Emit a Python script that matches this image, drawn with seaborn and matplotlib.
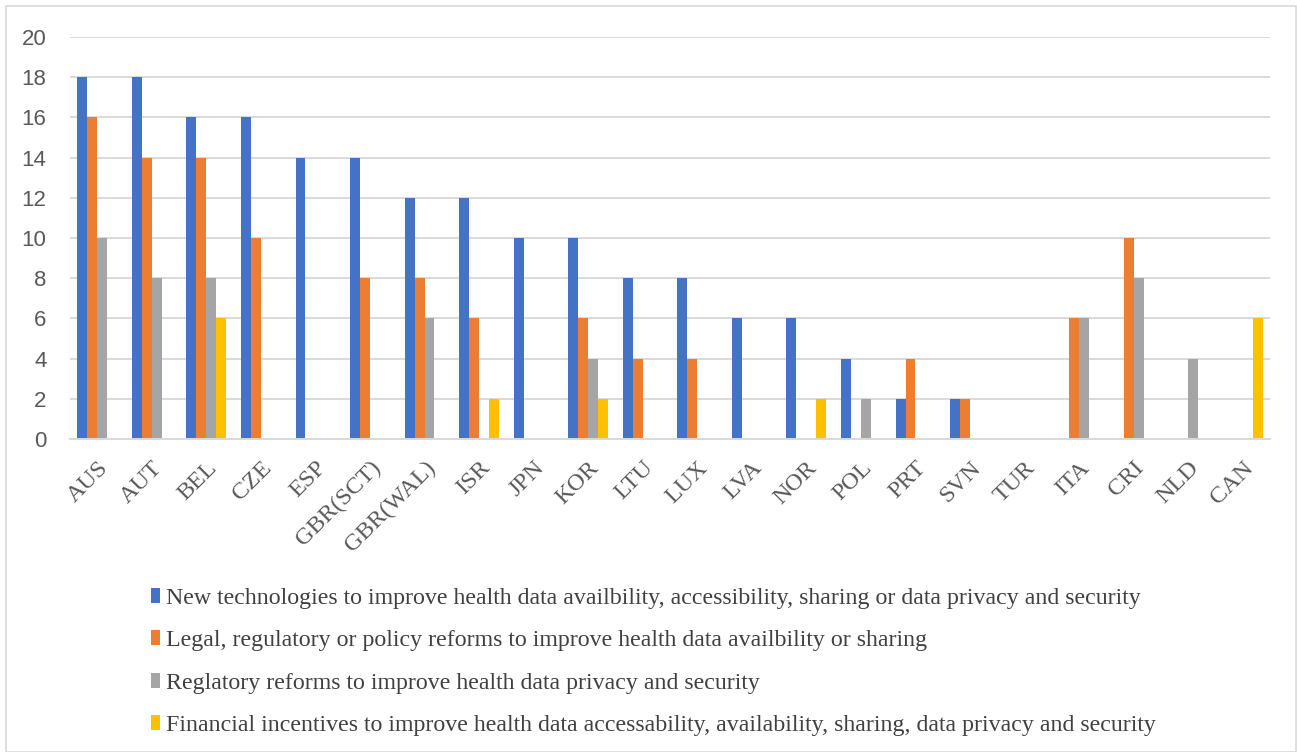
import pandas as pd
import numpy as np
import matplotlib.pyplot as plt
import seaborn as sns
from matplotlib.patches import Rectangle, Patch

countries = ['AUS', 'AUT', 'BEL', 'CZE', 'ESP', 'GBR(SCT)', 'GBR(WAL)', 'ISR', 'JPN', 'KOR', 'LTU',
             'LUX', 'LVA', 'NOR', 'POL', 'PRT', 'SVN', 'TUR', 'ITA', 'CRI', 'NLD', 'CAN']

series_names = [
    'New technologies to improve health data availbility, accessibility, sharing or data privacy and security',
    'Legal, regulatory or policy reforms to improve health data availbility or sharing',
    'Reglatory reforms to improve health data privacy and security',
    'Financial incentives to improve health data accessability, availability, sharing, data privacy and security',
]

new_tech = [18, 18, 16, 16, 14, 14, 12, 12, 10, 10, 8, 8, 6, 6, 4, 2, 2, 0, 0, 0, 0, 0]
legal_reform = [16, 14, 14, 10, 0, 8, 8, 6, 0, 6, 4, 4, 0, 0, 0, 4, 2, 0, 6, 10, 0, 0]
privacy_reform = [10, 8, 8, 0, 0, 0, 6, 0, 0, 4, 0, 0, 0, 0, 2, 0, 0, 0, 6, 8, 4, 0]
fin_incentives = [0, 0, 6, 0, 0, 0, 0, 2, 0, 2, 0, 0, 0, 2, 0, 0, 0, 0, 0, 0, 0, 6]

colors = ['#4472C4', '#ED7D31', '#A5A5A5', '#FFC000']

rows = []
for name, vals in zip(series_names, [new_tech, legal_reform, privacy_reform, fin_incentives]):
    for c, v in zip(countries, vals):
        rows.append({'Country': c, 'Measure': name, 'Count': v})
df = pd.DataFrame(rows)

sns.set_theme(style='white')
plt.rcParams['font.family'] = ['Liberation Sans', 'DejaVu Sans']

W, H = 1297, 752
fig = plt.figure(figsize=(W / 100, H / 100), dpi=100)
ax = fig.add_axes([70 / W, 1 - 439 / H, 1200 / W, 402 / H])

sns.barplot(data=df, x='Country', y='Count', hue='Measure', order=countries,
            hue_order=series_names, palette=colors, width=0.73, linewidth=0,
            saturation=1, legend=False, ax=ax)

ax.set_ylim(0, 20)
ax.set_xlim(-0.5, len(countries) - 0.5)
ax.set_yticks(np.arange(0, 21, 2))
ax.yaxis.grid(True, color='#D9D9D9', linewidth=1.4)
ax.set_axisbelow(True)
for s in ['left', 'right', 'top']:
    ax.spines[s].set_visible(False)
ax.spines['bottom'].set_color('#D9D9D9')
ax.spines['bottom'].set_linewidth(1.4)
ax.set_xlabel('')
ax.set_ylabel('')
ax.tick_params(axis='both', length=0)
ax.tick_params(axis='y', labelsize=16, labelcolor='#595959', pad=17)
ax.set_xticks(range(len(countries)))
ax.set_xticklabels(countries, rotation=45, ha='right', rotation_mode='anchor',
                   fontsize=17.5, color='#595959', family=['Liberation Serif'])
ax.tick_params(axis='x', pad=13)

handles = [Patch(facecolor=c, edgecolor='none') for c in colors]
fig.legend(handles, series_names, loc='upper left', bbox_to_anchor=(129 / W, 1 - 566 / H),
           frameon=False, handlelength=0.4, handleheight=0.6, handletextpad=0.25,
           labelspacing=0.9, prop={'family': 'Liberation Serif', 'size': 17.2},
           labelcolor='#404040')

fig.patches.append(Rectangle((6 / W, 0.0), 1 - 7 / W, 1 - 6 / H, transform=fig.transFigure,
                             fill=False, edgecolor='#D9D9D9', linewidth=1.2))

fig.savefig('out.png', dpi=100)
